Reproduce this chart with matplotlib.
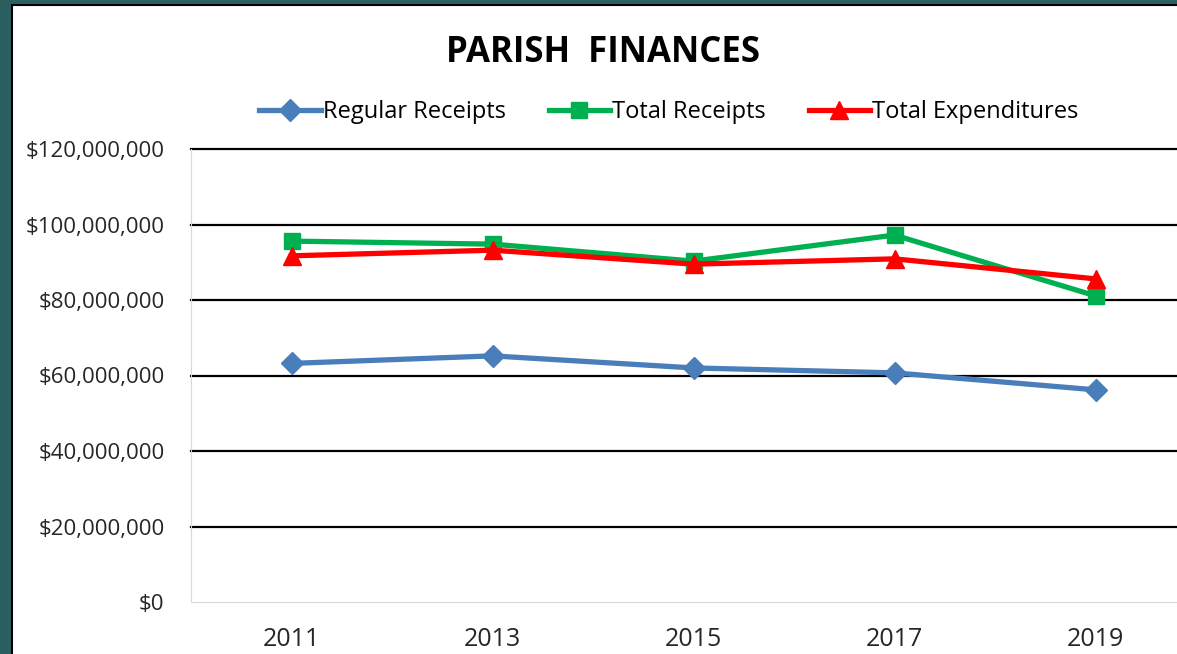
import numpy as np
import matplotlib.pyplot as plt
from matplotlib.patches import Rectangle
from matplotlib.ticker import FuncFormatter

years = ["2011", "2013", "2015", "2017", "2019"]
regular_receipts = [63.2e6, 65.2e6, 62.0e6, 60.7e6, 56.2e6]
total_receipts = [95.6e6, 94.8e6, 90.3e6, 97.2e6, 81.1e6]
total_expenditures = [91.7e6, 93.2e6, 89.5e6, 90.9e6, 85.6e6]

plt.rcParams['font.family'] = ['Open Sans', 'DejaVu Sans']

fig = plt.figure(figsize=(11.77, 6.54), dpi=100)
fig.patch.set_facecolor("#2b5e5f")
# white chart area with thin black frame, behind the axes
frame = Rectangle((12 / 1177, -0.05), 1.05, 1.05 - 5 / 654,
                  transform=fig.transFigure, facecolor="white",
                  edgecolor="black", linewidth=1.5, zorder=-10)
fig.patches.append(frame)

ax = fig.add_axes([191 / 1177, 1 - 602 / 654, 1005 / 1177, 453 / 654])
ax.set_facecolor("white")

x = np.arange(len(years))
ax.plot(x, regular_receipts, color="#4a7ebb", lw=3.8, marker="D", ms=11, label="Regular Receipts")
ax.plot(x, total_receipts, color="#00b050", lw=3.8, marker="s", ms=12, label="Total Receipts")
ax.plot(x, total_expenditures, color="#ff0000", lw=3.8, marker="^", ms=13, label="Total Expenditures")

ax.set_xlim(-0.5, 4.5)
ax.set_ylim(0, 120e6)
ax.set_xticks(x)
ax.set_xticklabels(years, fontsize=18)
ax.set_yticks(np.arange(0, 120e6 + 1, 20e6))
ax.yaxis.set_major_formatter(FuncFormatter(lambda v, p: f"${v:,.0f}"))
ax.tick_params(axis="y", length=0, pad=19, labelsize=16, labelcolor="#262626")
ax.tick_params(axis="x", length=0, pad=18, labelcolor="#262626")

ax.yaxis.grid(True, color="black", lw=1.6)
for gl in ax.get_ygridlines():
    gl.set_clip_on(False)
ax.get_ygridlines()[0].set_visible(False)
ax.set_axisbelow(True)
for s in ["top", "right"]:
    ax.spines[s].set_visible(False)
ax.spines["left"].set_color("#d9d9d9")
ax.spines["bottom"].set_color("#d9d9d9")

fig.text(603 / 1177, 1 - 53 / 654, "PARISH  FINANCES", ha="center", va="center",
         fontsize=25, fontweight="bold", color="black")

fig.legend(loc="center", bbox_to_anchor=(669 / 1177, 1 - 112 / 654), ncol=3,
           frameon=False, fontsize=17, handlelength=2.6, columnspacing=1.8,
           handletextpad=0.1)

fig.savefig("out.png", dpi=100, facecolor=fig.get_facecolor())
